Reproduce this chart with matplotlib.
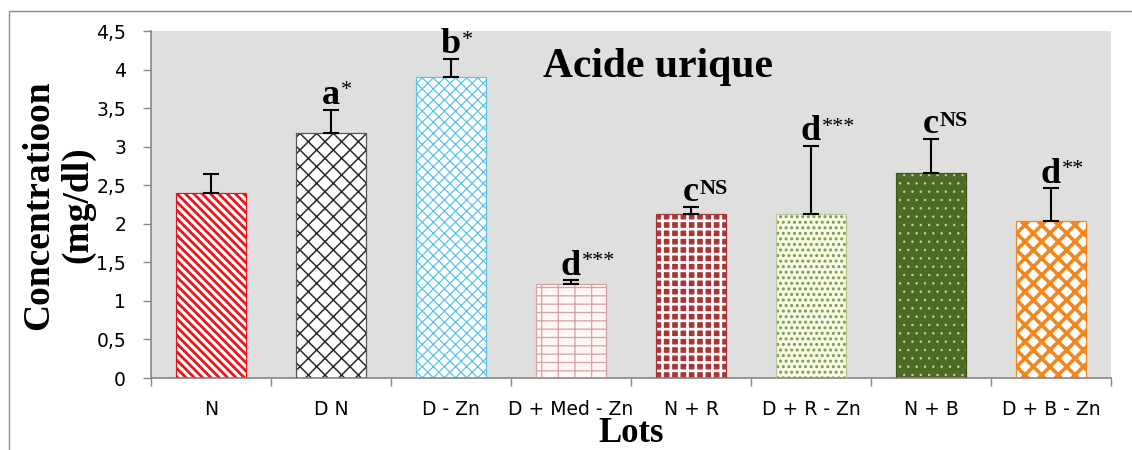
import numpy as np
import matplotlib
matplotlib.use("Agg")
import matplotlib.pyplot as plt
from matplotlib.patches import Rectangle

# ----- DATA -----
lots = ["N", "D N", "D - Zn", "D + Med - Zn", "N + R", "D + R - Zn", "N + B", "D + B - Zn"]
concentration = [2.40, 3.18, 3.90, 1.22, 2.13, 2.13, 2.66, 2.04]
sem = [0.24, 0.30, 0.24, 0.05, 0.09, 0.88, 0.44, 0.42]
letters = ["", "a", "b", "d", "c", "d", "c", "d"]
signif = ["", "*", "*", "***", "NS", "***", "NS", "**"]
yticks = [0, 0.5, 1, 1.5, 2, 2.5, 3, 3.5, 4, 4.5]
ytick_labels = ["0", "0,5", "1", "1,5", "2", "2,5", "3", "3,5", "4", "4,5"]

# ----- STYLE per bar: face, hatch colour, hatch, hatch width -----
styles = [
    ("white", "#E8141B", "\\\\\\\\", 2.0),
    ("white", "#2B2B2B", "xx", 1.1),
    ("white", "#5CC3E6", "xxx", 0.9),
    ("#FFF6F6", "#D8A0A2", "+-", 0.9),
    ("#A83636", "white", "++", 1.9),
    ("#F8FBE8", "#7A9A45", "...", 1.4),
    ("#4E6B26", "#C9D9A0", "..", 0.5),
    ("white", "#F2861F", "xx", 2.6),
]
outline = ["#E8141B", "#555555", "#5CC3E6", "#D8A0A2", "#A83636", "#B8C890", "#3E561E", "#F2861F"]

fig = plt.figure(figsize=(11.32, 4.5), dpi=100)
ax = fig.add_axes([151 / 1132, 1 - 378 / 450, 960 / 1132, 347 / 450])
ax.set_facecolor("#DFDFDF")

x = np.arange(len(lots))
for i in range(len(lots)):
    face, hcol, hatch, hlw = styles[i]
    with plt.rc_context({"hatch.linewidth": hlw}):
        ax.bar(x[i], concentration[i], width=0.58, color=face, edgecolor=hcol,
               hatch=hatch, linewidth=0, zorder=2)
    ax.bar(x[i], concentration[i], width=0.58, fill=False, edgecolor=outline[i],
           linewidth=0.9, zorder=3)

ax.errorbar(x, concentration, yerr=[np.zeros(len(sem)), sem], fmt="none",
            ecolor="black", elinewidth=1.5, capsize=6, capthick=1.5, zorder=4)

# significance letters
tops = np.array(concentration) + np.array(sem)
for i in range(len(lots)):
    if not letters[i]:
        continue
    t = ax.annotate(letters[i], xy=(x[i], tops[i]), xytext=(0, 4), textcoords="offset points",
                    ha="center", va="baseline", fontsize=26, fontweight="bold",
                    family="Liberation Serif", zorder=5)
    weight = "bold" if signif[i] == "NS" else "normal"
    ax.annotate(signif[i], xy=(1, 0.93), xycoords=t, xytext=(0.5, 0), textcoords="offset points",
                ha="left", va="top", fontsize=16, fontweight=weight, family="Liberation Serif")

# ----- AXES -----
ax.set_xlim(-0.5, len(lots) - 0.5)
ax.set_ylim(0, 4.5)
ax.set_yticks(yticks)
ax.set_yticklabels(ytick_labels, fontsize=13.5, family="DejaVu Sans")
ax.tick_params(axis="y", length=6, width=1, color="#868686", pad=12)
ax.set_xticks(x)
ax.set_xticklabels(lots, fontsize=13.5, family="DejaVu Sans")
ax.set_xticks(np.arange(len(lots) + 1) - 0.5, minor=True)
ax.tick_params(axis="x", which="major", length=0, pad=16)
ax.tick_params(axis="x", which="minor", length=6, width=1, color="#868686")
for s in ["top", "right"]:
    ax.spines[s].set_visible(False)
for s in ["left", "bottom"]:
    ax.spines[s].set_color("#868686")
    ax.spines[s].set_linewidth(1.2)

ax.text(0.528, 0.895, "Acide urique", transform=ax.transAxes, ha="center", va="center",
        fontsize=30, fontweight="bold", family="Liberation Serif")
fig.text(58 / 1132, 1 - 205 / 450, "Concentratioon\n(mg/dl)", rotation=90, ha="center", va="center",
         fontsize=27, fontweight="bold", family="Liberation Serif", linespacing=1.15)
fig.text(631 / 1132, 1 - 433 / 450, "Lots", ha="center", va="center",
         fontsize=25, fontweight="bold", family="Liberation Serif")

# chart area border
fig.patches.append(Rectangle((9 / 1132, -0.2), 1.2, 1.2 - 11 / 450, transform=fig.transFigure,
                             fill=False, edgecolor="#8C8C8C", linewidth=1, figure=fig))

fig.savefig("out.png", dpi=100)
